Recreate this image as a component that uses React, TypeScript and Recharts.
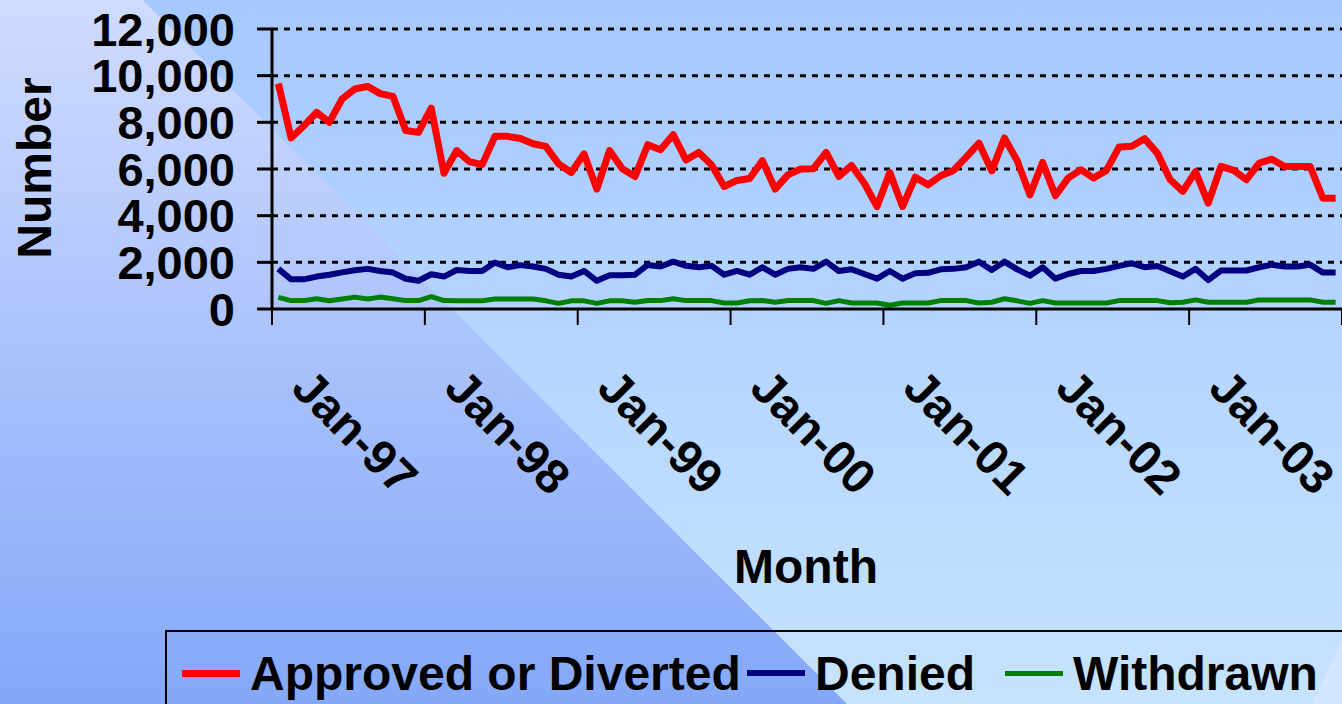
import React from "react";
import { LineChart, Line, XAxis, YAxis, ReferenceLine, Label } from "recharts";

// monthly counts, Jan-97 .. Dec-03
const approved = [
  9660, 7330, 7850, 8430, 8000, 9000, 9430, 9540, 9230, 9110, 7650, 7570,
  8610, 5820, 6790, 6320, 6190, 7400, 7400, 7310, 7080, 6970, 6220, 5850,
  6650, 5140, 6790, 6010, 5680, 7040, 6820, 7470, 6390, 6710, 6180, 5250,
  5510, 5590, 6360, 5140, 5750, 6000, 6010, 6710, 5680, 6150, 5390, 4390,
  5850, 4390, 5650, 5320, 5710, 5940, 6510, 7110, 5920, 7330, 6360, 4890,
  6280, 4850, 5610, 5970, 5610, 5940, 6940, 6970, 7300, 6680, 5550, 5040,
  5890, 4540, 6110, 5940, 5540, 6250, 6420, 6110, 6110, 6110, 4750, 4750,
];
const denied = [
  1720, 1270, 1270, 1390, 1470, 1570, 1660, 1720, 1630, 1560, 1300, 1210,
  1490, 1390, 1670, 1630, 1630, 1990, 1790, 1880, 1820, 1720, 1470, 1390,
  1630, 1210, 1450, 1450, 1470, 1890, 1820, 2030, 1850, 1790, 1850, 1470,
  1630, 1470, 1790, 1470, 1720, 1790, 1720, 2030, 1630, 1700, 1500, 1300,
  1630, 1300, 1530, 1550, 1700, 1720, 1790, 2030, 1670, 2030, 1700, 1430,
  1790, 1300, 1500, 1630, 1630, 1720, 1850, 1960, 1790, 1840, 1620, 1390,
  1720, 1240, 1650, 1650, 1650, 1790, 1900, 1820, 1820, 1900, 1560, 1560,
];
const withdrawn = [
  500, 360, 360, 440, 350, 430, 510, 430, 510, 440, 360, 360,
  530, 360, 350, 350, 350, 430, 430, 430, 430, 350, 240, 350,
  350, 240, 350, 350, 290, 360, 360, 440, 360, 360, 360, 260,
  260, 350, 360, 290, 360, 360, 360, 240, 360, 260, 260, 260,
  160, 260, 260, 260, 360, 360, 360, 260, 290, 440, 350, 240,
  360, 260, 260, 260, 260, 260, 360, 360, 360, 360, 270, 290,
  390, 290, 290, 290, 290, 390, 390, 390, 390, 390, 290, 290,
];
const yearLabels = ["Jan-97", "Jan-98", "Jan-99", "Jan-00", "Jan-01", "Jan-02", "Jan-03"];
const yTicks = [0, 2000, 4000, 6000, 8000, 10000, 12000];
const xTicks = [0, 12, 24, 36, 48, 60, 72, 84];

const series = [
  { key: "approved", name: "Approved or Diverted", color: "#ff0000", width: 7, left: 15 },
  { key: "denied", name: "Denied", color: "#000080", width: 6, left: 580 },
  { key: "withdrawn", name: "Withdrawn", color: "#008000", width: 5, left: 838 },
];

const FONT = "'Liberation Sans', Arial, sans-serif";

const data = approved.map((v, i) => ({
  x: i + 0.5,
  approved: v,
  denied: denied[i],
  withdrawn: withdrawn[i],
}));

const YTick = (props: any) => {
  const { y, payload } = props;
  return (
    <text x={235} y={y} textAnchor="end" dominantBaseline="central"
      fontFamily={FONT} fontWeight="bold" fontSize={47} fill="#000">
      {payload.value.toLocaleString("en-US")}
    </text>
  );
};

const XTick = (props: any) => {
  const { x, payload } = props;
  const idx = Math.round(payload.value / 12);
  if (idx >= yearLabels.length) return <g />;
  const cx = x + 83;
  const cy = 432;
  return (
    <text x={cx} y={cy} textAnchor="middle" dominantBaseline="central"
      transform={`rotate(45 ${cx} ${cy})`}
      fontFamily={FONT} fontWeight="bold" fontSize={48} fill="#000">
      {yearLabels[idx]}
    </text>
  );
};

export default function App() {
  return (
    <div style={{ position: "absolute", left: 0, top: 0, width: 1342, height: 704, overflow: "hidden" }}>
      <svg width={1342} height={704} style={{ position: "absolute", left: 0, top: 0 }}>
        <defs>
          <linearGradient id="bgRight" x1="0" y1="0" x2="0" y2="1">
            <stop offset="0%" stopColor="#a5c8ff" />
            <stop offset="100%" stopColor="#c6e3ff" />
          </linearGradient>
          <linearGradient id="bgLeft" x1="0" y1="0" x2="0" y2="1">
            <stop offset="0%" stopColor="#d0dcff" />
            <stop offset="100%" stopColor="#84a8f8" />
          </linearGradient>
        </defs>
        <rect x={0} y={0} width={1342} height={704} fill="url(#bgRight)" />
        <polygon points="0,0 143,0 847,704 0,704" fill="url(#bgLeft)" />
        <polygon points="1342,640 1342,704 1312,704" fill="#d4e6ff" />
      </svg>

      <div style={{ position: "absolute", left: 0, top: 0 }}>
        <LineChart width={1342} height={704} data={data}
          margin={{ top: 29, right: 0, left: 0, bottom: 0 }}>
          <XAxis dataKey="x" type="number" domain={[0, 84]} ticks={xTicks}
            interval={0} height={395} tickSize={16}
            axisLine={{ stroke: "#000", strokeWidth: 3 }}
            tickLine={{ stroke: "#000", strokeWidth: 2 }}
            tick={<XTick />}>
            <Label content={() => (
              <text x={806} y={566} textAnchor="middle" dominantBaseline="central"
                fontFamily={FONT} fontWeight="bold" fontSize={48} fill="#000">
                Month
              </text>
            )} />
          </XAxis>
          <YAxis type="number" domain={[0, 12000]} ticks={yTicks} interval={0}
            width={272} tickSize={15}
            axisLine={{ stroke: "#000", strokeWidth: 3 }}
            tickLine={{ stroke: "#000", strokeWidth: 3 }}
            tick={<YTick />}>
            <Label content={() => (
              <text x={34} y={168} textAnchor="middle" dominantBaseline="central"
                transform="rotate(-90 34 168)"
                fontFamily={FONT} fontWeight="bold" fontSize={48} fill="#000">
                Number
              </text>
            )} />
          </YAxis>
          {yTicks.filter((t) => t > 0).map((t) => (
            <ReferenceLine key={t} y={t} stroke="#000" strokeWidth={3}
              strokeDasharray="6 6" ifOverflow="extendDomain" />
          ))}
          {series.map((s) => (
            <Line key={s.key} type="linear" dataKey={s.key} name={s.name}
              stroke={s.color} strokeWidth={s.width} dot={false}
              strokeLinejoin="round" isAnimationActive={false} />
          ))}
        </LineChart>
      </div>

      <div style={{
        position: "absolute", left: 165, top: 630, width: 1200, height: 100,
        border: "2px solid #000", boxSizing: "border-box",
      }}>
        {series.map((s) => (
          <div key={s.key} style={{
            position: "absolute", left: s.left, top: 0, height: 82,
            display: "flex", alignItems: "center",
          }}>
            <div style={{ width: 58, height: s.width, background: s.color, marginRight: 10 }} />
            <span style={{ fontFamily: FONT, fontWeight: "bold", fontSize: 48, color: "#000", whiteSpace: "nowrap" }}>
              {s.name}
            </span>
          </div>
        ))}
      </div>
    </div>
  );
}
